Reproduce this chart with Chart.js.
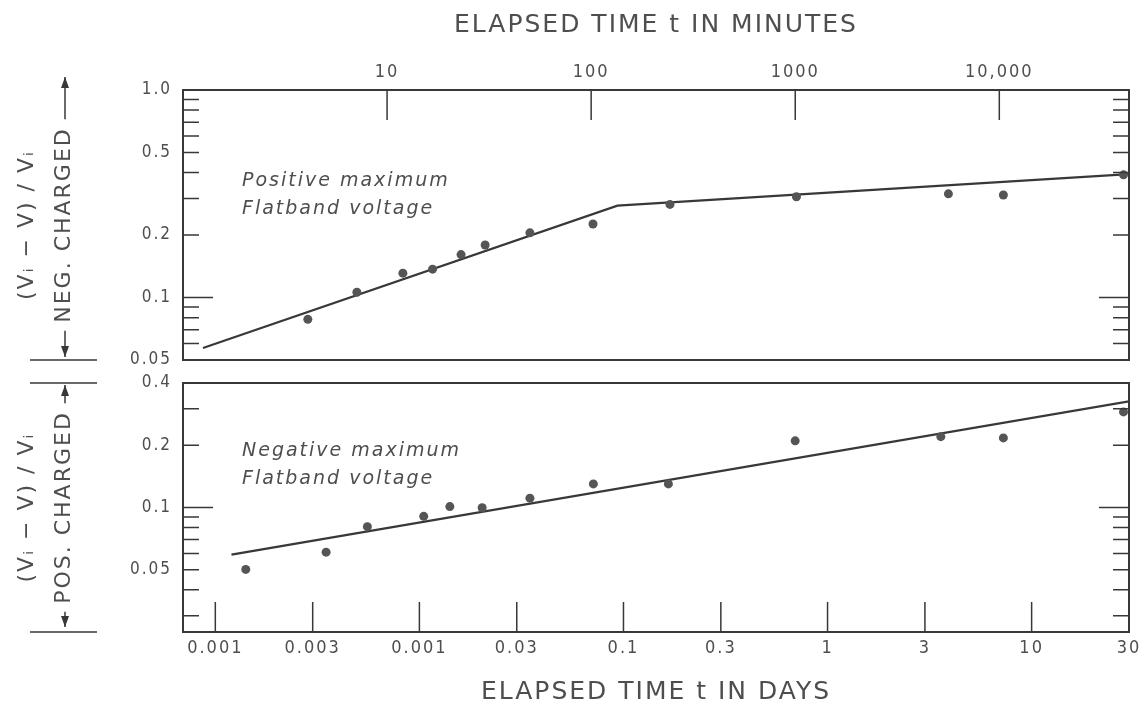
<!DOCTYPE html>
<html>
<head>
<meta charset="utf-8">
<script src="https://cdn.jsdelivr.net/npm/chart.js@4.4.0/dist/chart.umd.min.js"></script>
<style>
  html, body { margin: 0; padding: 0; background: #fff; }
  #wrap { position: relative; width: 1146px; height: 711px; }
  canvas { position: absolute; left: 0; }
  #topChart { top: 0; }
  #bottomChart { top: 372px; }
</style>
</head>
<body>
<div id="wrap">
  <canvas id="topChart" width="1146" height="372"></canvas>
  <canvas id="bottomChart" width="1146" height="339"></canvas>
</div>
<script>
// Shared time axis in days, the top panel also shows it in minutes
const minutesPerDay = 1440;
const xMinDays = 1 / 1440;
const xMaxDays = 30;
const dayTicks = [0.001, 0.003, 0.01, 0.03, 0.1, 0.3, 1, 3, 10, 30];
const dayTickLabels = ['0.001', '0.003', '0.001', '0.03', '0.1', '0.3', '1', '3', '10', '30'];
const minuteTicks = [10, 100, 1000, 10000];
const minuteTickLabels = ['10', '100', '1000', '10,000'];

// Top panel: positive maximum flatband voltage (neg. charged)
const topDays = [0.00284, 0.00494, 0.0083, 0.0116, 0.016, 0.021, 0.0348, 0.0709, 0.169, 0.704, 3.91, 7.27, 28.2];
const topRatio = [0.0785, 0.106, 0.131, 0.137, 0.161, 0.179, 0.205, 0.226, 0.281, 0.306, 0.316, 0.312, 0.39];
const topFitDays = [0.00087, 0.0934, 30];
const topFitRatio = [0.0571, 0.277, 0.393];
const topYTicks = [0.05, 0.1, 0.2, 0.5, 1.0];
const topYTickLabels = ['0.05', '0.1', '0.2', '0.5', '1.0'];
const topYMarks = [0.06, 0.07, 0.08, 0.09, 0.1, 0.2, 0.3, 0.4, 0.5, 0.6, 0.7, 0.8, 0.9];

// Bottom panel: negative maximum flatband voltage (pos. charged)
const bottomDays = [0.00141, 0.00349, 0.00556, 0.0105, 0.0141, 0.0203, 0.0348, 0.0712, 0.166, 0.694, 3.59, 7.27, 28.2];
const bottomRatio = [0.0502, 0.0608, 0.0808, 0.0906, 0.101, 0.0997, 0.111, 0.130, 0.130, 0.210, 0.220, 0.217, 0.290];
const bottomFitDays = [0.0012, 30];
const bottomFitRatio = [0.0592, 0.326];
const bottomYTicks = [0.05, 0.1, 0.2, 0.4];
const bottomYTickLabels = ['0.05', '0.1', '0.2', '0.4'];
const bottomYMarks = [0.03, 0.04, 0.05, 0.06, 0.07, 0.08, 0.09, 0.1, 0.2, 0.3];

const ink = '#383838';
const textInk = '#4e4e4e';
const dotInk = '#555';
const family = "'DejaVu Sans', sans-serif";
const narrow = "'DejaVu Sans Condensed', 'DejaVu Sans', sans-serif";

function toPoints(xs, ys) {
    return xs.map((x, i) => ({ x: x, y: ys[i] }));
}

function arrowHead(ctx, x, y, dir) {
    ctx.beginPath();
    ctx.moveTo(x, y);
    ctx.lineTo(x - 4, y - dir * 11);
    ctx.lineTo(x + 4, y - dir * 11);
    ctx.closePath();
    ctx.fill();
}

// frame, inward tick marks, caption and the charge bracket on the left
const framePlugin = {
    id: 'frame',
    beforeDraw(chart) {
        // the old lettering is widely spaced
        chart.ctx.letterSpacing = '2px';
    },
    afterDraw(chart, args, opts) {
        const { ctx, chartArea: a } = chart;
        const xs = chart.scales[opts.xScale];
        const ys = chart.scales.y;
        ctx.save();
        ctx.strokeStyle = ink;
        ctx.fillStyle = ink;
        ctx.lineWidth = 2;
        ctx.strokeRect(a.left, a.top, a.right - a.left, a.bottom - a.top);

        ctx.lineWidth = 1.5;
        ctx.beginPath();
        opts.xMarks.forEach(v => {
            const px = xs.getPixelForValue(v);
            if (opts.xEdge === 'top') { ctx.moveTo(px, a.top); ctx.lineTo(px, a.top + 30); }
            else { ctx.moveTo(px, a.bottom); ctx.lineTo(px, a.bottom - 30); }
        });
        opts.yMarks.forEach(v => {
            const py = ys.getPixelForValue(v);
            const len = v === 0.1 ? 30 : 16;
            ctx.moveTo(a.left, py); ctx.lineTo(a.left + len, py);
            ctx.moveTo(a.right, py); ctx.lineTo(a.right - len, py);
        });
        ctx.stroke();

        // separators and arrows next to the y title
        const bx = 65;
        const mid = (a.top + a.bottom) / 2;
        ctx.font = 'normal 22px ' + family;
        const half = ctx.measureText(opts.chargeLabel).width / 2 + 8;
        const tipTop = a.top + opts.arrowTop;
        const tipBottom = a.bottom + opts.arrowBottom;
        ctx.beginPath();
        ctx.moveTo(bx, tipTop); ctx.lineTo(bx, mid - half);
        ctx.moveTo(bx, mid + half); ctx.lineTo(bx, tipBottom);
        opts.separators.forEach(edge => {
            const y = a[edge];
            ctx.moveTo(30, y); ctx.lineTo(97, y);
        });
        ctx.stroke();
        arrowHead(ctx, bx, tipTop, -1);
        arrowHead(ctx, bx, tipBottom, 1);

        ctx.fillStyle = textInk;
        ctx.font = 'italic 19px ' + family;
        ctx.textBaseline = 'middle';
        opts.caption.forEach((line, i) => {
            ctx.fillText(line, a.left + 59, a.top + opts.captionTop + i * 28);
        });
        ctx.restore();
    }
};

function yAxis(min, max, ticks, labels, title) {
    return {
        type: 'logarithmic',
        position: 'left',
        min: min,
        max: max,
        grid: { display: false, drawTicks: false },
        border: { display: false },
        afterBuildTicks: s => { s.ticks = ticks.map(v => ({ value: v })); },
        afterFit: s => { s.width = 183; s.paddingTop = 0; s.paddingBottom = 0; },
        ticks: {
            autoSkip: false,
            padding: 11,
            color: textInk,
            font: { family: narrow, size: 17 },
            callback: (v, i) => labels[i]
        },
        title: {
            display: true,
            text: title,
            color: textInk,
            font: { family: family, size: 22, lineHeight: 1.68 },
            padding: { top: 9, bottom: 0 }
        }
    };
}

// Top panel
new Chart(document.getElementById('topChart'), {
    type: 'scatter',
    data: {
        datasets: [{
            data: toPoints(topDays, topRatio),
            pointRadius: 4.5,
            pointBackgroundColor: dotInk,
            pointBorderWidth: 0
        }, {
            data: toPoints(topFitDays, topFitRatio),
            showLine: true,
            borderColor: ink,
            borderWidth: 2.2,
            pointRadius: 0,
            fill: false
        }]
    },
    options: {
        responsive: false,
        animation: false,
        layout: { padding: { top: 0, right: 17, bottom: 12, left: 0 } },
        plugins: {
            legend: { display: false },
            tooltip: { enabled: false },
            frame: {
                xScale: 'x2', xEdge: 'top', xMarks: minuteTicks, yMarks: topYMarks,
                chargeLabel: 'NEG. CHARGED', arrowTop: -13, arrowBottom: -3, separators: ['bottom'],
                caption: ['Positive maximum', 'Flatband voltage'], captionTop: 91
            }
        },
        scales: {
            x: { type: 'logarithmic', min: xMinDays, max: xMaxDays, display: false },
            x2: {
                type: 'logarithmic',
                position: 'top',
                min: xMinDays * minutesPerDay,
                max: xMaxDays * minutesPerDay,
                grid: { display: false, drawTicks: false },
                border: { display: false },
                afterBuildTicks: s => { s.ticks = minuteTicks.map(v => ({ value: v })); },
                afterFit: s => { s.height = 90; s.paddingLeft = 0; s.paddingRight = 0; },
                ticks: {
                    autoSkip: false, maxRotation: 0, padding: 7,
                    color: textInk, font: { family: narrow, size: 18 },
                    callback: (v, i) => minuteTickLabels[i]
                },
                title: {
                    display: true, text: 'ELAPSED TIME t IN MINUTES', color: textInk,
                    font: { family: family, size: 25 }, padding: { top: 10, bottom: 0 }
                }
            },
            y: yAxis(0.05, 1.0, topYTicks, topYTickLabels, ['(Vᵢ − V) / Vᵢ', 'NEG. CHARGED'])
        }
    },
    plugins: [framePlugin]
});

// Bottom panel
new Chart(document.getElementById('bottomChart'), {
    type: 'scatter',
    data: {
        datasets: [{
            data: toPoints(bottomDays, bottomRatio),
            pointRadius: 4.5,
            pointBackgroundColor: dotInk,
            pointBorderWidth: 0
        }, {
            data: toPoints(bottomFitDays, bottomFitRatio),
            showLine: true,
            borderColor: ink,
            borderWidth: 2.2,
            pointRadius: 0,
            fill: false
        }]
    },
    options: {
        responsive: false,
        animation: false,
        layout: { padding: { top: 11, right: 17, bottom: 0, left: 0 } },
        plugins: {
            legend: { display: false },
            tooltip: { enabled: false },
            frame: {
                xScale: 'x', xEdge: 'bottom', xMarks: dayTicks, yMarks: bottomYMarks,
                chargeLabel: 'POS. CHARGED', arrowTop: 2, arrowBottom: -5, separators: ['top', 'bottom'],
                caption: ['Negative maximum', 'Flatband voltage'], captionTop: 68
            }
        },
        scales: {
            x: {
                type: 'logarithmic',
                position: 'bottom',
                min: xMinDays,
                max: xMaxDays,
                grid: { display: false, drawTicks: false },
                border: { display: false },
                afterBuildTicks: s => { s.ticks = dayTicks.map(v => ({ value: v })); },
                afterFit: s => { s.height = 79; s.paddingLeft = 0; s.paddingRight = 0; },
                ticks: {
                    autoSkip: false, maxRotation: 0, padding: 6,
                    color: textInk, font: { family: narrow, size: 18 },
                    callback: (v, i) => dayTickLabels[i]
                },
                title: {
                    display: true, text: 'ELAPSED TIME t IN DAYS', color: textInk,
                    font: { family: family, size: 25 }, padding: { top: 0, bottom: 4 }
                }
            },
            y: yAxis(0.025, 0.4, bottomYTicks, bottomYTickLabels, ['(Vᵢ − V) / Vᵢ', 'POS. CHARGED'])
        }
    },
    plugins: [framePlugin]
});
</script>
</body>
</html>
